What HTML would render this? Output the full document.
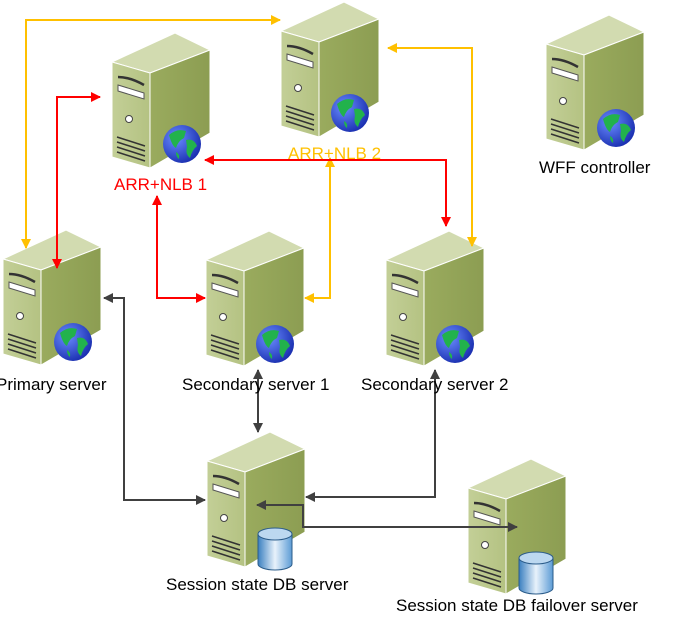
<!DOCTYPE html>
<html><head><meta charset="utf-8"><style>
body{margin:0;background:#fff;width:674px;height:622px;overflow:hidden}
text{font-family:"Liberation Sans",sans-serif;font-size:17px}
</style></head><body>
<svg width="674" height="622" xmlns="http://www.w3.org/2000/svg">
<defs>
<linearGradient id="gs" x1="0" y1="0" x2="1" y2="0"><stop offset="0" stop-color="#9aab5e"/><stop offset="1" stop-color="#8c9d52"/></linearGradient>
<linearGradient id="gf" x1="0" y1="0" x2="1" y2="0"><stop offset="0" stop-color="#c3cf97"/><stop offset="1" stop-color="#b4c282"/></linearGradient>
<radialGradient id="gg" cx="0.35" cy="0.35" r="0.7"><stop offset="0" stop-color="#6a8cff"/><stop offset="1" stop-color="#1a2fb0"/></radialGradient>
<linearGradient id="gd" x1="0" y1="0" x2="1" y2="0"><stop offset="0" stop-color="#3a7fc0"/><stop offset="0.5" stop-color="#e8f2fb"/><stop offset="1" stop-color="#5b9bd5"/></linearGradient>
<marker id="mo" viewBox="0 0 10 10" refX="9" refY="5" markerWidth="5" markerHeight="5" orient="auto-start-reverse"><path d="M0,0L10,5L0,10z" fill="#ffc000"/></marker>
<marker id="mr" viewBox="0 0 10 10" refX="9" refY="5" markerWidth="5" markerHeight="5" orient="auto-start-reverse"><path d="M0,0L10,5L0,10z" fill="#ff0000"/></marker>
<marker id="md" viewBox="0 0 10 10" refX="9" refY="5" markerWidth="5" markerHeight="5" orient="auto-start-reverse"><path d="M0,0L10,5L0,10z" fill="#404040"/></marker>
<g id="srv">
<polygon points="0,29 63,0 98,17 38,40" fill="#d2dbb0" stroke="#fff" stroke-width="1"/>
<polygon points="38,40 98,17 98,100 38,135" fill="url(#gs)" stroke="#fff" stroke-width="1"/>
<polygon points="0,29 38,40 38,135 0,124" fill="url(#gf)" stroke="#fff" stroke-width="1"/>
<path d="M6,44 Q18,44 32,52" stroke="#333" stroke-width="2.5" fill="none"/>
<polygon points="6,52 32,60 32,66 6,58" fill="#fff" stroke="#555" stroke-width="1"/>
<circle cx="17" cy="86" r="3.5" fill="#fff" stroke="#444"/>
<path d="M5,104 L33,113 M5,109 L33,118 M5,114 L33,123 M5,119 L33,128" stroke="#333" stroke-width="1.5"/>
</g>
<g id="glb"><circle cx="0" cy="0" r="19" fill="url(#gg)"/>
<path d="M-13,-9 Q-5,-16 4,-13 L2,-6 Q-4,-3 -6,4 Q-10,2 -13,-9z M4,-4 Q12,-6 15,2 Q10,6 8,14 Q3,10 5,3z M-6,8 Q-2,10 -3,15 Q-6,13 -6,8z" fill="#22b24c"/></g>
<g id="db"><path d="M-17,-10 L-17,20 A17,6 0 0 0 17,20 L17,-10z" fill="url(#gd)" stroke="#2b5c8a"/><ellipse cx="0" cy="-10" rx="17" ry="6" fill="#bcd8f0" stroke="#2b5c8a"/></g>
</defs>
<use href="#srv" x="112" y="33"/><use href="#glb" x="182" y="144"/>
<use href="#srv" x="281" y="2"/><use href="#glb" x="350" y="113"/>
<use href="#srv" x="546" y="15"/><use href="#glb" x="616" y="128"/>
<use href="#srv" x="3" y="230"/><use href="#glb" x="73" y="342"/>
<use href="#srv" x="206" y="231"/><use href="#glb" x="275" y="344"/>
<use href="#srv" x="386" y="231"/><use href="#glb" x="455" y="344"/>
<use href="#srv" x="207" y="432"/><use href="#db" x="275" y="544"/>
<use href="#srv" x="468" y="459"/><use href="#db" x="536" y="568"/>
<g fill="none" stroke-width="2">
<path d="M26,248 V20 H280" stroke="#ffc000" marker-start="url(#mo)" marker-end="url(#mo)"/>
<path d="M388,48 H472 V246" stroke="#ffc000" marker-start="url(#mo)" marker-end="url(#mo)"/>
<path d="M305,298 H330 V158" stroke="#ffc000" marker-start="url(#mo)" marker-end="url(#mo)"/>
<path d="M100,97 H57 V268" stroke="#ff0000" marker-start="url(#mr)" marker-end="url(#mr)"/>
<path d="M157,196 V298 H205" stroke="#ff0000" marker-start="url(#mr)" marker-end="url(#mr)"/>
<path d="M205,160 H446 V226" stroke="#ff0000" marker-start="url(#mr)" marker-end="url(#mr)"/>
<path d="M104,298 H124 V500 H205" stroke="#404040" marker-start="url(#md)" marker-end="url(#md)"/>
<path d="M258,370 V432" stroke="#404040" marker-start="url(#md)" marker-end="url(#md)"/>
<path d="M306,497 H435 V370" stroke="#404040" marker-start="url(#md)" marker-end="url(#md)"/>
<path d="M257,505 H303 V527 H517" stroke="#404040" marker-start="url(#md)" marker-end="url(#md)"/>
</g>
<text x="114" y="190" fill="#ff0000">ARR+NLB 1</text>
<text x="288" y="159" fill="#ffc000">ARR+NLB 2</text>
<text x="539" y="173" fill="#000">WFF controller</text>
<text x="-4" y="390" fill="#000">Primary server</text>
<text x="182" y="390" fill="#000">Secondary server 1</text>
<text x="361" y="390" fill="#000">Secondary server 2</text>
<text x="166" y="590" fill="#000">Session state DB server</text>
<text x="396" y="611" fill="#000">Session state DB failover server</text>
</svg>
</body></html>
